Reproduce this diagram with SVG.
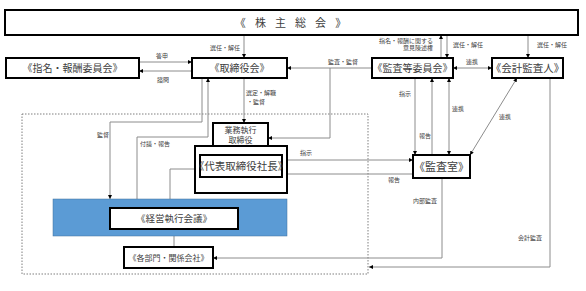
<svg xmlns="http://www.w3.org/2000/svg" width="586" height="291" viewBox="0 0 586 291">
<defs>
<marker id="ah" viewBox="0 0 6 6" refX="6" refY="3" markerWidth="4" markerHeight="4" markerUnits="userSpaceOnUse" orient="auto-start-reverse">
<path d="M0,0 L6,3 L0,6 z" fill="#000"/>
</marker>
<style>
.ln{fill:none;stroke:#8c8c8c;stroke-width:1}
.box{fill:#fff;stroke:#000;stroke-width:2}
.t{font-family:"Liberation Sans","Noto Sans CJK JP",sans-serif;fill:#404040;text-anchor:middle}
.s{font-family:"Liberation Sans","Noto Sans CJK JP",sans-serif;fill:#404040;font-size:6px}
.ea{marker-end:url(#ah)}
.ba{marker-start:url(#ah);marker-end:url(#ah)}
</style>
</defs>
<rect width="586" height="291" fill="#fff"/>
<rect x="22" y="114" width="346" height="160" fill="none" stroke="#7f7f7f" stroke-width="1" stroke-dasharray="1.5,1.5"/>
<g id="connectors">
<path class="ln ea" d="M244,35 V58"/>
<path class="ln ea" d="M139,62 H192"/>
<path class="ln ea" d="M192,71 H139"/>
<path class="ln ea" d="M372,68 H287"/>
<path class="ln ea" d="M330,68 V138 H268"/>
<path class="ln ea" d="M441,58 V35"/>
<path class="ln ea" d="M447,35 V58"/>
<path class="ln ea" d="M528,35 V58"/>
<path class="ln ba" d="M453,68 H492"/>
<path class="ln ea" d="M415,78 V155"/>
<path class="ln ea" d="M432,155 V78"/>
<path class="ln ba" d="M449,78 V155"/>
<path class="ln ba" d="M470,155 L517,78"/>
<path class="ln ea" d="M550,78 V267 H369"/>
<path class="ln ea" d="M442,178 V258 H213"/>
<path class="ln ea" d="M244,78 V123"/>
<path class="ln ea" d="M202,78 V122 H110 V199"/>
<path class="ln ea" d="M137,199 V137 H208 V78"/>
<path class="ln" d="M200,169 H170 V199"/>
<path class="ln ea" d="M282,160 H413"/>
<path class="ln ea" d="M413,174 H282"/>
<path class="ln" d="M174,236 V247"/>
<text class="s" x="240" y="50" text-anchor="end">選任・解任</text>
<text class="s" x="162" y="58" text-anchor="middle">答申</text>
<text class="s" x="163" y="82" text-anchor="middle">諮問</text>
<text class="s" x="343" y="64" text-anchor="middle">監査・監督</text>
<text class="s" x="433" y="43" text-anchor="end">指名・報酬に関する</text>
<text class="s" x="433" y="50" text-anchor="end">意見陳述権</text>
<text class="s" x="468" y="47" text-anchor="middle">選任・解任</text>
<text class="s" x="552" y="47" text-anchor="middle">選任・解任</text>
<text class="s" x="472" y="64" text-anchor="middle">連携</text>
<text class="s" x="405" y="96" text-anchor="middle">指示</text>
<text class="s" x="425" y="138" text-anchor="middle">報告</text>
<text class="s" x="458" y="111" text-anchor="middle">連携</text>
<text class="s" x="505" y="119" text-anchor="middle">連携</text>
<text class="s" x="306" y="155" text-anchor="middle">指示</text>
<text class="s" x="394" y="182" text-anchor="middle">報告</text>
<text class="s" x="425" y="203" text-anchor="middle">内部監査</text>
<text class="s" x="530" y="240" text-anchor="middle">会計監査</text>
<text class="s" x="246" y="95">選定・解職</text>
<text class="s" x="247" y="104">・監督</text>
<text class="s" x="103" y="137" text-anchor="middle">監督</text>
<text class="s" x="140" y="146">付議・報告</text>
</g>
<g id="shareholders">
<rect class="box" x="5" y="10" width="573" height="25"/>
<text class="t" x="292" y="26.5" font-size="11" letter-spacing="3">《 株 主 総 会 》</text>
</g>
<g id="nomination">
<rect class="box" x="6" y="58" width="133" height="20"/>
<text class="t" x="72.5" y="71.5" font-size="10">《指名・報酬委員会》</text>
</g>
<g id="board">
<rect class="box" x="192" y="58" width="95" height="20"/>
<text class="t" x="239.5" y="71.5" font-size="10">《取締役会》</text>
</g>
<g id="audit-committee">
<rect class="box" x="372" y="58" width="81" height="20"/>
<text class="t" x="412.5" y="71.5" font-size="10">《監査等委員会》</text>
</g>
<g id="accounting-auditor">
<rect class="box" x="492" y="58" width="71" height="20"/>
<text class="t" x="527.5" y="72" font-size="10.5">《会計監査人》</text>
</g>
<g id="executive-directors">
<rect class="box" x="195" y="146" width="92" height="47"/>
<rect class="box" x="213" y="123" width="55" height="23"/>
<text class="t" x="240.5" y="133" font-size="8">業務執行</text>
<text class="t" x="240.5" y="143" font-size="8">取締役</text>
</g>
<g id="president">
<rect class="box" x="200" y="155" width="82" height="22"/>
<text class="t" x="241" y="170" font-size="10.5">《代表取締役社長》</text>
</g>
<g id="audit-office">
<rect class="box" x="413" y="155" width="57" height="23"/>
<text class="t" x="441.5" y="170.5" font-size="11">《監査室》</text>
</g>
<g id="management-meeting">
<rect x="53" y="199" width="234" height="37" fill="#5b9bd5" stroke="#41719c" stroke-width="0.5"/>
<rect class="box" x="110" y="208" width="128" height="21"/>
<text class="t" x="174" y="222" font-size="9.5">《経営執行会議》</text>
</g>
<g id="departments">
<rect class="box" x="124" y="247" width="89" height="21"/>
<text class="t" x="168.5" y="260.5" font-size="8">《各部門・関係会社》</text>
</g>
</svg>
